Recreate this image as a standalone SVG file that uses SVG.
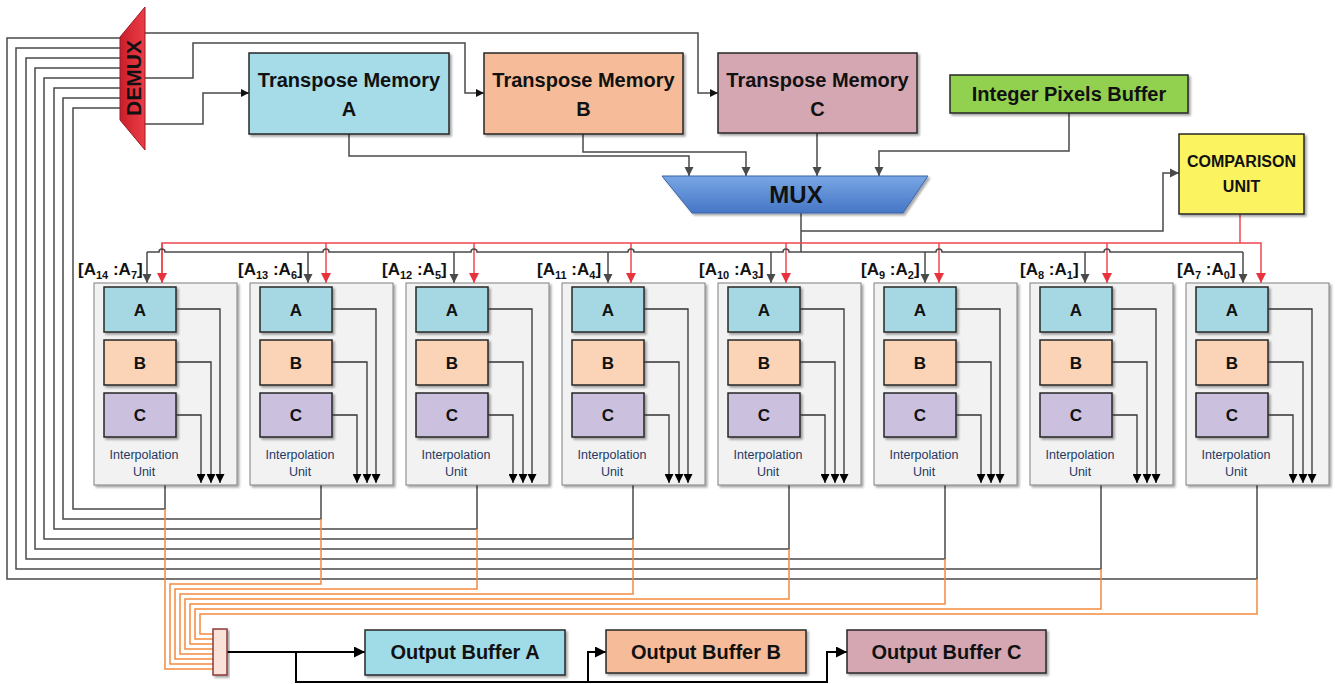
<svg xmlns="http://www.w3.org/2000/svg" width="1335" height="684" viewBox="0 0 1335 684">
<defs>
<style>
.box{stroke:#262626;stroke-width:1.5}
.t{font-family:"Liberation Sans",Arial,sans-serif;font-weight:bold;fill:#111;text-anchor:middle}
.lb{font-family:"Liberation Sans",Arial,sans-serif;font-weight:bold;fill:#111;font-size:17px}
.iu{font-family:"Liberation Sans",Arial,sans-serif;fill:#1f3864;font-size:12.5px;text-anchor:middle}
.unit{fill:#f2f2f2;stroke:#808080;stroke-width:1}
.w{fill:none;stroke:#4a4a4a;stroke-width:1.5}
.o{fill:none;stroke:#f28a3e;stroke-width:1.5}
.r{fill:none;stroke:#f0464f;stroke-width:1.5}
.k{fill:none;stroke:#000;stroke-width:2}
.in{fill:none;stroke:#333;stroke-width:1.3}
</style>
<filter id="sh" x="-10%" y="-10%" width="130%" height="130%">
<feDropShadow dx="2" dy="2" stdDeviation="1" flood-color="#000" flood-opacity="0.35"/>
</filter>
<linearGradient id="gDemux" x1="0" y1="0" x2="1" y2="0">
<stop offset="0" stop-color="#c91f2b"/><stop offset="1" stop-color="#ec3d47"/>
</linearGradient>
<linearGradient id="gMux" x1="0" y1="0" x2="0" y2="1">
<stop offset="0" stop-color="#78a6e4"/><stop offset="1" stop-color="#4676c6"/>
</linearGradient>
<marker id="ag" viewBox="0 0 10 10" refX="10" refY="5" markerWidth="9" markerHeight="10" markerUnits="userSpaceOnUse" orient="auto"><path d="M0,0 L10,5 L0,10 z" fill="#4a4a4a"/></marker>
<marker id="ar" viewBox="0 0 10 10" refX="10" refY="5" markerWidth="10" markerHeight="10" markerUnits="userSpaceOnUse" orient="auto"><path d="M0,0 L10,5 L0,10 z" fill="#e8323c"/></marker>
<marker id="as" viewBox="0 0 10 10" refX="10" refY="5" markerWidth="8" markerHeight="8" markerUnits="userSpaceOnUse" orient="auto"><path d="M0,0 L10,5 L0,10 z" fill="#111"/></marker>
<marker id="ak" viewBox="0 0 10 10" refX="10" refY="5" markerWidth="11" markerHeight="11" markerUnits="userSpaceOnUse" orient="auto"><path d="M0,0 L10,5 L0,10 z" fill="#000"/></marker>
<marker id="ai" viewBox="0 0 10 10" refX="10" refY="5" markerWidth="10" markerHeight="9" markerUnits="userSpaceOnUse" orient="auto"><path d="M0,0 L10,5 L0,10 z" fill="#000"/></marker>
</defs>
<rect width="1335" height="684" fill="#fff"/>

<g id="connectors">
<!-- DEMUX to transpose memories -->
<path class="w" d="M145,33 H698 V93 H718" marker-end="url(#as)"/>
<path class="w" d="M145,78 H193 V43 H465 V93 H484" marker-end="url(#as)"/>
<path class="w" d="M145,124 H203 V93 H249" marker-end="url(#as)"/>
<!-- memories to MUX -->
<path class="w" d="M349,134 V156 H689 V176" marker-end="url(#ag)"/>
<path class="w" d="M583,134 V152 H746 V176" marker-end="url(#ag)"/>
<path class="w" d="M817,133 V176" marker-end="url(#ag)"/>
<path class="w" d="M1069,113 V151 H879 V176" marker-end="url(#ag)"/>
<!-- MUX outputs -->
<path class="w" d="M801,213 V252"/>
<path class="w" d="M801,231 H1163 V173 H1179" marker-end="url(#ag)"/>
<!-- red bus from comparison unit -->
<path class="r" d="M1240,214 V243"/>
<path class="r" d="M162,283 V243 H1261 V283" marker-end="url(#ar)"/>
<path class="r" d="M162,243 V283" marker-end="url(#ar)"/>
<path class="r" d="M326,243 V283" marker-end="url(#ar)"/>
<path class="r" d="M474,243 V283" marker-end="url(#ar)"/>
<path class="r" d="M631,243 V283" marker-end="url(#ar)"/>
<path class="r" d="M786,243 V283" marker-end="url(#ar)"/>
<path class="r" d="M939,243 V283" marker-end="url(#ar)"/>
<path class="r" d="M1107,243 V283" marker-end="url(#ar)"/>
<!-- gray bus with hops -->
<path class="w" d="M147,252 H159 a3,3 0 0 1 6,0 H323 a3,3 0 0 1 6,0 H471 a3,3 0 0 1 6,0 H628 a3,3 0 0 1 6,0 H783 a3,3 0 0 1 6,0 H936 a3,3 0 0 1 6,0 H1104 a3,3 0 0 1 6,0 H1243"/>
<path class="w" d="M147,252 V283" marker-end="url(#ag)"/>
<path class="w" d="M308,252 V283" marker-end="url(#ag)"/>
<path class="w" d="M454,252 V283" marker-end="url(#ag)"/>
<path class="w" d="M608,252 V283" marker-end="url(#ag)"/>
<path class="w" d="M771,252 V283" marker-end="url(#ag)"/>
<path class="w" d="M925,252 V283" marker-end="url(#ag)"/>
<path class="w" d="M1085,252 V283" marker-end="url(#ag)"/>
<path class="w" d="M1243,252 V283" marker-end="url(#ag)"/>
<!-- unit outputs back to DEMUX -->
<path class="w" d="M120,38 H7 V579 H1257 V485"/>
<path class="w" d="M120,48 H16 V569 H1101 V485"/>
<path class="w" d="M120,58 H26 V559 H945 V485"/>
<path class="w" d="M120,68 H35 V549 H789 V485"/>
<path class="w" d="M120,78 H44 V539 H633 V485"/>
<path class="w" d="M120,88 H54 V529 H477 V485"/>
<path class="w" d="M120,98 H63 V519 H321 V485"/>
<path class="w" d="M120,108 H73 V509 H165 V485"/>
<!-- orange lines to collector -->
<path class="o" d="M165,509 V669 H213"/>
<path class="o" d="M321,519 V584 H170 V664 H213"/>
<path class="o" d="M477,529 V589 H175 V659 H213"/>
<path class="o" d="M633,539 V594 H180 V654 H213"/>
<path class="o" d="M789,549 V599 H185 V649 H213"/>
<path class="o" d="M945,559 V604 H190 V644 H213"/>
<path class="o" d="M1101,569 V609 H195 V639 H213"/>
<path class="o" d="M1257,579 V614 H200 V634 H213"/>
<!-- collector to output buffers -->
<path class="k" d="M227,652 H365" marker-end="url(#ak)"/>
<path class="k" d="M296,652 V682 H588 V652 H606" marker-end="url(#ak)"/>
<path class="k" d="M588,682 H827 V652 H847" marker-end="url(#ak)"/>
</g>

<g id="demux">
<polygon points="120,37 145,7 145,150 120,120" fill="url(#gDemux)" stroke="#9e1a22" stroke-width="1"/>
<text class="t" font-size="21" transform="translate(140.5,78) rotate(-90)" x="0" y="0">DEMUX</text>
</g>

<g id="tm-a">
<rect class="box" x="249" y="53" width="200" height="81" fill="#a6dbe8" filter="url(#sh)"/>
<text class="t" font-size="20" x="349" y="87">Transpose Memory</text>
<text class="t" font-size="20" x="349" y="116">A</text>
</g>
<g id="tm-b">
<rect class="box" x="484" y="53" width="199" height="81" fill="#f6bc99" filter="url(#sh)"/>
<text class="t" font-size="20" x="583.5" y="87">Transpose Memory</text>
<text class="t" font-size="20" x="583.5" y="116">B</text>
</g>
<g id="tm-c">
<rect class="box" x="718" y="53" width="199" height="80" fill="#d5a7b2" filter="url(#sh)"/>
<text class="t" font-size="20" x="817.5" y="87">Transpose Memory</text>
<text class="t" font-size="20" x="817.5" y="116">C</text>
</g>
<g id="ipb">
<rect class="box" x="950" y="75" width="238" height="38" fill="#92d050" filter="url(#sh)"/>
<text class="t" font-size="20" x="1069" y="101">Integer Pixels Buffer</text>
</g>
<g id="cu">
<rect class="box" x="1179" y="134" width="125" height="80" fill="#fbf35e" filter="url(#sh)"/>
<text class="t" font-size="16" x="1241.5" y="167">COMPARISON</text>
<text class="t" font-size="16" x="1241.5" y="192">UNIT</text>
</g>
<g id="mux">
<polygon points="662,176 928,176 903,213 692,213" fill="url(#gMux)" stroke="#3a64aa" stroke-width="1" filter="url(#sh)"/>
<text class="t" font-size="24" x="796" y="203">MUX</text>
</g>

<g id="labels">
<text class="lb" x="78" y="275">[A<tspan font-size="11" dy="4">14</tspan><tspan dy="-4"> :A</tspan><tspan font-size="11" dy="4">7</tspan><tspan dy="-4">]</tspan></text>
<text class="lb" x="238" y="275">[A<tspan font-size="11" dy="4">13</tspan><tspan dy="-4"> :A</tspan><tspan font-size="11" dy="4">6</tspan><tspan dy="-4">]</tspan></text>
<text class="lb" x="382" y="275">[A<tspan font-size="11" dy="4">12</tspan><tspan dy="-4"> :A</tspan><tspan font-size="11" dy="4">5</tspan><tspan dy="-4">]</tspan></text>
<text class="lb" x="537" y="275">[A<tspan font-size="11" dy="4">11</tspan><tspan dy="-4"> :A</tspan><tspan font-size="11" dy="4">4</tspan><tspan dy="-4">]</tspan></text>
<text class="lb" x="699" y="275">[A<tspan font-size="11" dy="4">10</tspan><tspan dy="-4"> :A</tspan><tspan font-size="11" dy="4">3</tspan><tspan dy="-4">]</tspan></text>
<text class="lb" x="861" y="275">[A<tspan font-size="11" dy="4">9</tspan><tspan dy="-4"> :A</tspan><tspan font-size="11" dy="4">2</tspan><tspan dy="-4">]</tspan></text>
<text class="lb" x="1020" y="275">[A<tspan font-size="11" dy="4">8</tspan><tspan dy="-4"> :A</tspan><tspan font-size="11" dy="4">1</tspan><tspan dy="-4">]</tspan></text>
<text class="lb" x="1177" y="275">[A<tspan font-size="11" dy="4">7</tspan><tspan dy="-4"> :A</tspan><tspan font-size="11" dy="4">0</tspan><tspan dy="-4">]</tspan></text>
</g>

<g id="iu1" transform="translate(94,0)">
<rect class="unit" x="0" y="283" width="143" height="202" filter="url(#sh)"/>
<rect class="box" x="10" y="287" width="72" height="45" fill="#a6d8e4" filter="url(#sh)"/>
<rect class="box" x="10" y="340" width="72" height="45" fill="#fbd4b7" filter="url(#sh)"/>
<rect class="box" x="10" y="393" width="72" height="44" fill="#cbc0dd" filter="url(#sh)"/>
<text class="t" font-size="17" x="46" y="316">A</text>
<text class="t" font-size="17" x="46" y="369">B</text>
<text class="t" font-size="17" x="46" y="421">C</text>
<text class="iu" x="50" y="459">Interpolation</text>
<text class="iu" x="50" y="476">Unit</text>
<path class="in" d="M82,309 H126 V483" marker-end="url(#ai)"/>
<path class="in" d="M82,362 H117 V483" marker-end="url(#ai)"/>
<path class="in" d="M82,415 H107 V483" marker-end="url(#ai)"/>
</g>
<g id="iu2" transform="translate(250,0)">
<rect class="unit" x="0" y="283" width="143" height="202" filter="url(#sh)"/>
<rect class="box" x="10" y="287" width="72" height="45" fill="#a6d8e4" filter="url(#sh)"/>
<rect class="box" x="10" y="340" width="72" height="45" fill="#fbd4b7" filter="url(#sh)"/>
<rect class="box" x="10" y="393" width="72" height="44" fill="#cbc0dd" filter="url(#sh)"/>
<text class="t" font-size="17" x="46" y="316">A</text>
<text class="t" font-size="17" x="46" y="369">B</text>
<text class="t" font-size="17" x="46" y="421">C</text>
<text class="iu" x="50" y="459">Interpolation</text>
<text class="iu" x="50" y="476">Unit</text>
<path class="in" d="M82,309 H126 V483" marker-end="url(#ai)"/>
<path class="in" d="M82,362 H117 V483" marker-end="url(#ai)"/>
<path class="in" d="M82,415 H107 V483" marker-end="url(#ai)"/>
</g>
<g id="iu3" transform="translate(406,0)">
<rect class="unit" x="0" y="283" width="143" height="202" filter="url(#sh)"/>
<rect class="box" x="10" y="287" width="72" height="45" fill="#a6d8e4" filter="url(#sh)"/>
<rect class="box" x="10" y="340" width="72" height="45" fill="#fbd4b7" filter="url(#sh)"/>
<rect class="box" x="10" y="393" width="72" height="44" fill="#cbc0dd" filter="url(#sh)"/>
<text class="t" font-size="17" x="46" y="316">A</text>
<text class="t" font-size="17" x="46" y="369">B</text>
<text class="t" font-size="17" x="46" y="421">C</text>
<text class="iu" x="50" y="459">Interpolation</text>
<text class="iu" x="50" y="476">Unit</text>
<path class="in" d="M82,309 H126 V483" marker-end="url(#ai)"/>
<path class="in" d="M82,362 H117 V483" marker-end="url(#ai)"/>
<path class="in" d="M82,415 H107 V483" marker-end="url(#ai)"/>
</g>
<g id="iu4" transform="translate(562,0)">
<rect class="unit" x="0" y="283" width="143" height="202" filter="url(#sh)"/>
<rect class="box" x="10" y="287" width="72" height="45" fill="#a6d8e4" filter="url(#sh)"/>
<rect class="box" x="10" y="340" width="72" height="45" fill="#fbd4b7" filter="url(#sh)"/>
<rect class="box" x="10" y="393" width="72" height="44" fill="#cbc0dd" filter="url(#sh)"/>
<text class="t" font-size="17" x="46" y="316">A</text>
<text class="t" font-size="17" x="46" y="369">B</text>
<text class="t" font-size="17" x="46" y="421">C</text>
<text class="iu" x="50" y="459">Interpolation</text>
<text class="iu" x="50" y="476">Unit</text>
<path class="in" d="M82,309 H126 V483" marker-end="url(#ai)"/>
<path class="in" d="M82,362 H117 V483" marker-end="url(#ai)"/>
<path class="in" d="M82,415 H107 V483" marker-end="url(#ai)"/>
</g>
<g id="iu5" transform="translate(718,0)">
<rect class="unit" x="0" y="283" width="143" height="202" filter="url(#sh)"/>
<rect class="box" x="10" y="287" width="72" height="45" fill="#a6d8e4" filter="url(#sh)"/>
<rect class="box" x="10" y="340" width="72" height="45" fill="#fbd4b7" filter="url(#sh)"/>
<rect class="box" x="10" y="393" width="72" height="44" fill="#cbc0dd" filter="url(#sh)"/>
<text class="t" font-size="17" x="46" y="316">A</text>
<text class="t" font-size="17" x="46" y="369">B</text>
<text class="t" font-size="17" x="46" y="421">C</text>
<text class="iu" x="50" y="459">Interpolation</text>
<text class="iu" x="50" y="476">Unit</text>
<path class="in" d="M82,309 H126 V483" marker-end="url(#ai)"/>
<path class="in" d="M82,362 H117 V483" marker-end="url(#ai)"/>
<path class="in" d="M82,415 H107 V483" marker-end="url(#ai)"/>
</g>
<g id="iu6" transform="translate(874,0)">
<rect class="unit" x="0" y="283" width="143" height="202" filter="url(#sh)"/>
<rect class="box" x="10" y="287" width="72" height="45" fill="#a6d8e4" filter="url(#sh)"/>
<rect class="box" x="10" y="340" width="72" height="45" fill="#fbd4b7" filter="url(#sh)"/>
<rect class="box" x="10" y="393" width="72" height="44" fill="#cbc0dd" filter="url(#sh)"/>
<text class="t" font-size="17" x="46" y="316">A</text>
<text class="t" font-size="17" x="46" y="369">B</text>
<text class="t" font-size="17" x="46" y="421">C</text>
<text class="iu" x="50" y="459">Interpolation</text>
<text class="iu" x="50" y="476">Unit</text>
<path class="in" d="M82,309 H126 V483" marker-end="url(#ai)"/>
<path class="in" d="M82,362 H117 V483" marker-end="url(#ai)"/>
<path class="in" d="M82,415 H107 V483" marker-end="url(#ai)"/>
</g>
<g id="iu7" transform="translate(1030,0)">
<rect class="unit" x="0" y="283" width="143" height="202" filter="url(#sh)"/>
<rect class="box" x="10" y="287" width="72" height="45" fill="#a6d8e4" filter="url(#sh)"/>
<rect class="box" x="10" y="340" width="72" height="45" fill="#fbd4b7" filter="url(#sh)"/>
<rect class="box" x="10" y="393" width="72" height="44" fill="#cbc0dd" filter="url(#sh)"/>
<text class="t" font-size="17" x="46" y="316">A</text>
<text class="t" font-size="17" x="46" y="369">B</text>
<text class="t" font-size="17" x="46" y="421">C</text>
<text class="iu" x="50" y="459">Interpolation</text>
<text class="iu" x="50" y="476">Unit</text>
<path class="in" d="M82,309 H126 V483" marker-end="url(#ai)"/>
<path class="in" d="M82,362 H117 V483" marker-end="url(#ai)"/>
<path class="in" d="M82,415 H107 V483" marker-end="url(#ai)"/>
</g>
<g id="iu8" transform="translate(1186,0)">
<rect class="unit" x="0" y="283" width="143" height="202" filter="url(#sh)"/>
<rect class="box" x="10" y="287" width="72" height="45" fill="#a6d8e4" filter="url(#sh)"/>
<rect class="box" x="10" y="340" width="72" height="45" fill="#fbd4b7" filter="url(#sh)"/>
<rect class="box" x="10" y="393" width="72" height="44" fill="#cbc0dd" filter="url(#sh)"/>
<text class="t" font-size="17" x="46" y="316">A</text>
<text class="t" font-size="17" x="46" y="369">B</text>
<text class="t" font-size="17" x="46" y="421">C</text>
<text class="iu" x="50" y="459">Interpolation</text>
<text class="iu" x="50" y="476">Unit</text>
<path class="in" d="M82,309 H126 V483" marker-end="url(#ai)"/>
<path class="in" d="M82,362 H117 V483" marker-end="url(#ai)"/>
<path class="in" d="M82,415 H107 V483" marker-end="url(#ai)"/>
</g>

<g id="collector">
<rect x="213" y="629" width="14" height="46" fill="#fbe2d8" stroke="#8b3a3a" stroke-width="1.5" filter="url(#sh)"/>
</g>
<g id="ob-a">
<rect class="box" x="365" y="630" width="200" height="45" fill="#a0dbe8" filter="url(#sh)"/>
<text class="t" font-size="20" x="465" y="659">Output Buffer A</text>
</g>
<g id="ob-b">
<rect class="box" x="606" y="630" width="200" height="43" fill="#f6bc99" filter="url(#sh)"/>
<text class="t" font-size="20" x="706" y="659">Output Buffer B</text>
</g>
<g id="ob-c">
<rect class="box" x="847" y="630" width="199" height="43" fill="#d5a7b2" filter="url(#sh)"/>
<text class="t" font-size="20" x="946.5" y="659">Output Buffer C</text>
</g>
</svg>
